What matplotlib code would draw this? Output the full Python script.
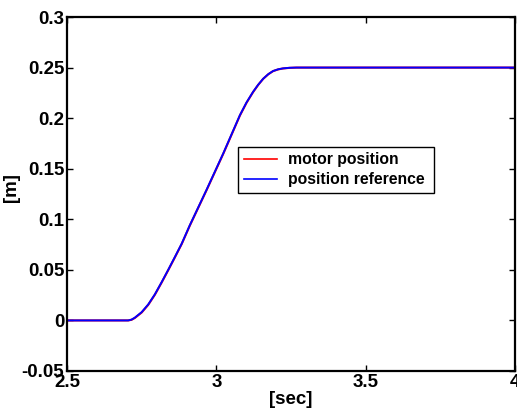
import matplotlib
matplotlib.use('Agg')
import matplotlib.pyplot as plt

plt.rcParams['font.family'] = 'Liberation Sans'
plt.rcParams['font.weight'] = 'bold'
plt.rcParams['font.size'] = 10

t = [2.5, 2.705, 2.716, 2.727, 2.750, 2.772, 2.794, 2.817, 2.839, 2.861, 2.884, 2.911,
     2.939, 2.967, 2.995, 3.023, 3.051, 3.079, 3.101, 3.123, 3.140, 3.157, 3.174, 3.190,
     3.207, 3.223, 3.245, 3.268, 4.0]
ref = [0.0, 0.0, 0.0008, 0.0027, 0.0082, 0.0158, 0.0257, 0.0379, 0.0501, 0.0626, 0.0759, 0.094,
       0.1115, 0.129, 0.147, 0.165, 0.184, 0.203, 0.2155, 0.226, 0.233, 0.239, 0.2435, 0.2466,
       0.2483, 0.2492, 0.2498, 0.250, 0.250]
motor = [0.0, 0.0, 0.0006, 0.0024, 0.0078, 0.0154, 0.0253, 0.0375, 0.0497, 0.0622, 0.0755, 0.0936,
         0.1111, 0.1286, 0.1466, 0.1646, 0.1836, 0.2026, 0.2151, 0.2257, 0.2328, 0.2389, 0.2434, 0.2465,
         0.2482, 0.2491, 0.2497, 0.250, 0.250]

xticks = [2.5, 3, 3.5, 4]
xticklabels = ['2.5', '3', '3.5', '4']
yticks = [-0.05, 0, 0.05, 0.1, 0.15, 0.2, 0.25, 0.3]
yticklabels = ['-0.05', '0', '0.05', '0.1', '0.15', '0.2', '0.25', '0.3']

fig = plt.figure(figsize=(5.17, 4.08), dpi=100)
ax = fig.add_axes([0.1296, 0.0907, 0.8665, 0.8676])

ax.plot(t, motor, color='red', linewidth=1.5, label='motor position')
ax.plot(t, ref, color='blue', linewidth=1.4, label='position reference')

ax.set_xlim(2.5, 4)
ax.set_ylim(-0.05, 0.3)
ax.set_xticks(xticks)
ax.set_xticklabels(xticklabels)
ax.set_yticks(yticks)
ax.set_yticklabels(yticklabels)
ax.tick_params(direction='in', length=4, width=1, top=True, right=True, labelsize=13.5, pad=2)
for s in ax.spines.values():
    s.set_linewidth(1.6)

ax.set_xlabel('[sec]', fontsize=13.5, fontweight='bold', labelpad=0)
ax.set_ylabel('[m]', fontsize=13.5, fontweight='bold')
ax.yaxis.set_label_coords(-0.105, 0.518)

leg = ax.legend(loc='upper left', bbox_to_anchor=(0.382, 0.0, 0.4375, 0.633), mode='expand',
                fontsize=11.3, fancybox=False, framealpha=1, edgecolor='black',
                handlelength=2.1, handletextpad=0.7, borderpad=0.35,
                labelspacing=0.3, borderaxespad=0)
leg.get_frame().set_linewidth(1.0)
for h in leg.get_lines():
    h.set_linewidth(1.2)

plt.savefig('out.png', dpi=100)
